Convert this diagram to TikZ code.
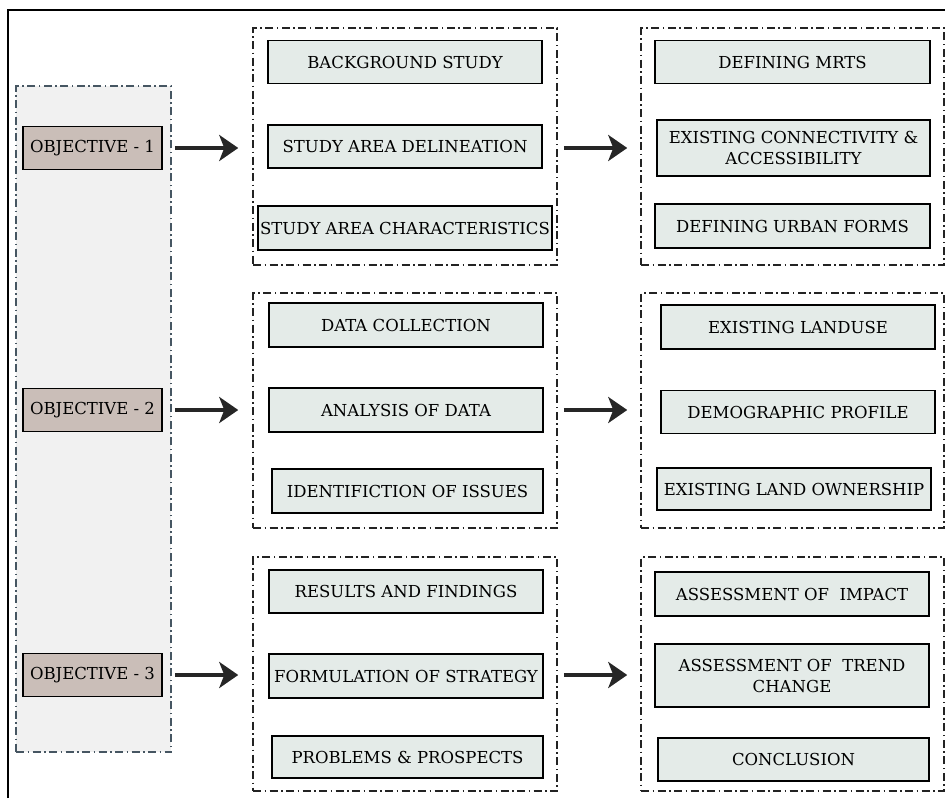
\documentclass[tikz,border=0pt]{standalone}
\usepackage{fontspec}
\setmainfont{DejaVu Serif}
\usetikzlibrary{positioning,arrows.meta}
\definecolor{objFill}{RGB}{202,190,184}
\definecolor{taskFill}{RGB}{228,235,232}
\definecolor{panelFill}{RGB}{241,241,241}
\definecolor{panelLine}{RGB}{70,86,98}
\definecolor{frameInk}{RGB}{35,35,35}

\begin{document}
\begin{tikzpicture}[x=1pt, y=-1pt,
    task/.style={draw, line width=1.6pt, fill=taskFill, align=center, inner sep=2pt,
      font=\fontsize{16.5}{21}\selectfont, minimum height=43pt},
    obj/.style={draw, line width=1.6pt, fill=objFill, minimum width=139pt,
      minimum height=43pt, inner sep=2pt, font=\fontsize{16.5}{20}\selectfont},
    grp/.style={draw=frameInk, line width=1.5pt, inner sep=0pt,
      dash pattern=on 8pt off 3.5pt on 1.5pt off 3.5pt},
    flow/.style={-{Stealth[length=19pt, width=26pt, inset=5pt]}, line width=3.5pt, color=black!85}
  ]
    \useasboundingbox (0,0) rectangle (945,798);
    \draw[line width=1.5pt] (8,798) -- (8,10) -- (945,10);

    \node[grp, draw=panelLine, fill=panelFill, minimum width=155pt, minimum height=666pt] (panel) at (93.5,419) {};
    \node[obj] (obj1) at (92.5,148) {OBJECTIVE - 1};
    \node[obj] (obj2) at (92.5,410) {OBJECTIVE - 2};
    \node[obj] (obj3) at (92.5,675) {OBJECTIVE - 3};

    \node[grp, minimum width=304pt, minimum height=237pt] (gm1) at (405,146.5) {};
    \node[grp, minimum width=304pt, minimum height=235pt] (gm2) at (405,410.5) {};
    \node[grp, minimum width=304pt, minimum height=234pt] (gm3) at (405,674) {};
    \node[grp, minimum width=303pt, minimum height=237pt] (gr1) at (792.5,146.5) {};
    \node[grp, minimum width=303pt, minimum height=235pt] (gr2) at (792.5,410.5) {};
    \node[grp, minimum width=303pt, minimum height=234pt] (gr3) at (792.5,674) {};

    \node[task, minimum width=274pt] (bgstudy) at (405,62) {BACKGROUND STUDY};
    \node[task, minimum width=274pt] (delin) at (405,146.5) {STUDY AREA DELINEATION};
    \node[task, minimum width=292pt, minimum height=44pt] (charac) at (405,228) {STUDY AREA CHARACTERISTICS};

    \node[task, minimum width=274pt, minimum height=44pt] (datacol) at (406,325) {DATA COLLECTION};
    \node[task, minimum width=274pt, minimum height=44pt] (analysis) at (406,410) {ANALYSIS OF DATA};
    \node[task, minimum width=271pt, minimum height=44pt] (issues) at (407.5,491) {IDENTIFICTION OF ISSUES};

    \node[task, minimum width=274pt] (results) at (406,591.5) {RESULTS AND FINDINGS};
    \node[task, minimum width=274pt, minimum height=44pt] (strategy) at (406,676) {FORMULATION OF STRATEGY};
    \node[task, minimum width=271pt, minimum height=42pt] (problems) at (407.5,757) {PROBLEMS \& PROSPECTS};

    \node[task, minimum width=275pt] (mrts) at (792.5,62) {DEFINING MRTS};
    \node[task, minimum width=273pt, minimum height=56pt] (connect) at (793.5,148) {EXISTING CONNECTIVITY \&\\ACCESSIBILITY};
    \node[task, minimum width=275pt, minimum height=44pt] (forms) at (792.5,226) {DEFINING URBAN FORMS};

    \node[task, minimum width=274pt, minimum height=44pt] (landuse) at (798,327) {EXISTING LANDUSE};
    \node[task, minimum width=274pt] (demog) at (798,412) {DEMOGRAPHIC PROFILE};
    \node[task, minimum width=274pt, minimum height=42pt] (owner) at (794,489) {EXISTING LAND OWNERSHIP};

    \node[task, minimum width=274pt, minimum height=44pt] (impact) at (792,594) {ASSESSMENT OF\ \ IMPACT};
    \node[task, minimum width=274pt, minimum height=63pt] (trend) at (792,675.5) {ASSESSMENT OF\ \ TREND\\CHANGE};
    \node[task, minimum width=271pt, minimum height=43pt] (concl) at (793.5,759.5) {CONCLUSION};

    \draw[flow, shorten <=12pt, shorten >=14pt] (obj1.east) -- (obj1.east -| gm1.west);
    \draw[flow, shorten <=12pt, shorten >=14pt] (obj2.east) -- (obj2.east -| gm2.west);
    \draw[flow, shorten <=12pt, shorten >=14pt] (obj3.east) -- (obj3.east -| gm3.west);
    \draw[flow, shorten <=6pt, shorten >=13pt] (gm1.east |- obj1) -- (gr1.west |- obj1);
    \draw[flow, shorten <=6pt, shorten >=13pt] (gm2.east |- obj2) -- (gr2.west |- obj2);
    \draw[flow, shorten <=6pt, shorten >=13pt] (gm3.east |- obj3) -- (gr3.west |- obj3);
  \end{tikzpicture}
\end{document}
